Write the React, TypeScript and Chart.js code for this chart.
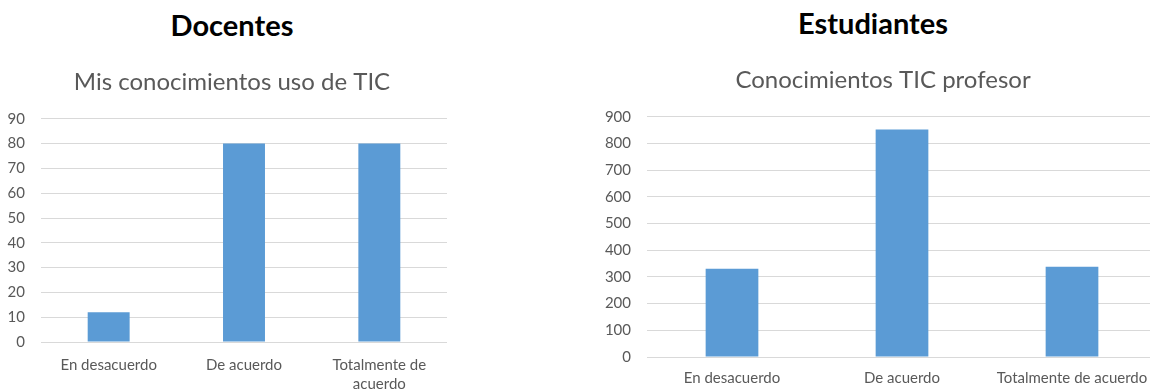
import React, { useEffect, useRef } from "react";
import { Chart, registerables } from "chart.js";

Chart.register(...registerables);

// ---- Data ----
const headingDocentes = "Docentes";
const headingEstudiantes = "Estudiantes";

const docentesTitle = "Mis conocimientos uso de TIC";
const docentesCategories: (string | string[])[] = [
  "En desacuerdo",
  "De acuerdo",
  ["Totalmente de", "acuerdo"],
];
const docentesValues = [12, 80, 80];
const docentesYMax = 90;
const docentesYStep = 10;

const estudiantesTitle = "Conocimientos TIC profesor";
const estudiantesCategories: string[] = [
  "En desacuerdo",
  "De acuerdo",
  "Totalmente de acuerdo",
];
const estudiantesValues = [331, 852, 338];
const estudiantesYMax = 900;
const estudiantesYStep = 100;

// ---- Styles ----
const FONT = "Lato, 'Open Sans', sans-serif";
const TEXT_GRAY = "#595959";
const GRID_GRAY = "#d9d9d9";
const BAR_BLUE = "#5b9bd5";

type PanelProps = {
  labels: (string | string[])[];
  values: number[];
  title: string;
  yMax: number;
  yStep: number;
  left: number;
  top: number;
  width: number;
  height: number;
  padLeft: number;
  yAxisWidth: number;
  rightSpacer: number;
  xAxisHeight: number;
  xTickPad: number;
  titleTop: number;
  titleBottom: number;
};

function BarPanel(p: PanelProps) {
  const ref = useRef<HTMLCanvasElement>(null);
  useEffect(() => {
    const chart = new Chart(ref.current as HTMLCanvasElement, {
      type: "bar",
      data: {
        labels: p.labels,
        datasets: [
          {
            data: p.values,
            backgroundColor: BAR_BLUE,
            borderWidth: 0,
            categoryPercentage: 1,
            barPercentage: 0.31,
            yAxisID: "y",
          },
        ],
      },
      options: {
        responsive: false,
        animation: false,
        devicePixelRatio: 1,
        layout: {
          padding: { left: p.padLeft, right: 0, top: 0, bottom: 0 },
        },
        plugins: {
          legend: { display: false },
          tooltip: { enabled: false },
          title: {
            display: true,
            text: p.title,
            color: TEXT_GRAY,
            font: { family: FONT, size: 24, weight: "normal", lineHeight: 1.2 },
            padding: { top: p.titleTop, bottom: p.titleBottom },
          },
        },
        scales: {
          x: {
            grid: { display: false, drawTicks: false },
            border: { display: false },
            ticks: {
              color: TEXT_GRAY,
              font: { family: FONT, size: 15, lineHeight: 1.27 },
              padding: p.xTickPad,
              maxRotation: 0,
              autoSkip: false,
            },
            afterFit: (s: any) => {
              s.height = p.xAxisHeight;
            },
          },
          y: {
            position: "left",
            min: 0,
            max: p.yMax,
            ticks: {
              stepSize: p.yStep,
              color: TEXT_GRAY,
              font: { family: FONT, size: 15 },
              padding: 16,
            },
            grid: { color: GRID_GRAY, lineWidth: 1, drawTicks: false },
            border: { display: false },
            afterFit: (s: any) => {
              s.width = p.yAxisWidth;
            },
          },
          spacer: {
            type: "linear",
            position: "right",
            display: true,
            grid: { display: false, drawTicks: false },
            border: { display: false },
            ticks: { display: false },
            afterFit: (s: any) => {
              s.width = p.rightSpacer;
            },
          },
        },
      },
    } as any);
    return () => chart.destroy();
  }, []);
  return (
    <canvas
      ref={ref}
      width={p.width}
      height={p.height}
      style={{
        position: "absolute",
        left: p.left,
        top: p.top,
        width: p.width,
        height: p.height,
      }}
    />
  );
}

function Heading({ text, cx, top }: { text: string; cx: number; top: number }) {
  return (
    <div
      style={{
        position: "absolute",
        left: cx - 150,
        top,
        width: 300,
        textAlign: "center",
        fontFamily: FONT,
        fontWeight: 700,
        fontSize: 29,
        lineHeight: 1.2,
        color: "#000",
        whiteSpace: "nowrap",
      }}
    >
      {text}
    </div>
  );
}

export default function App() {
  return (
    <div
      style={{
        position: "absolute",
        left: 0,
        top: 0,
        width: 1150,
        height: 390,
        overflow: "hidden",
        background: "#fff",
      }}
    >
      <Heading text={headingDocentes} cx={232} top={8} />
      <Heading text={headingEstudiantes} cx={873} top={6} />
      <BarPanel
        labels={docentesCategories}
        values={docentesValues}
        title={docentesTitle}
        yMax={docentesYMax}
        yStep={docentesYStep}
        left={0}
        top={0}
        width={458}
        height={390}
        padLeft={6}
        yAxisWidth={35}
        rightSpacer={11}
        xAxisHeight={48}
        xTickPad={14}
        titleTop={68}
        titleBottom={22}
      />
      <BarPanel
        labels={estudiantesCategories}
        values={estudiantesValues}
        title={estudiantesTitle}
        yMax={estudiantesYMax}
        yStep={estudiantesYStep}
        left={580}
        top={0}
        width={588}
        height={390}
        padLeft={18}
        yAxisWidth={49}
        rightSpacer={11}
        xAxisHeight={33}
        xTickPad={12}
        titleTop={66}
        titleBottom={22}
      />
    </div>
  );
}
